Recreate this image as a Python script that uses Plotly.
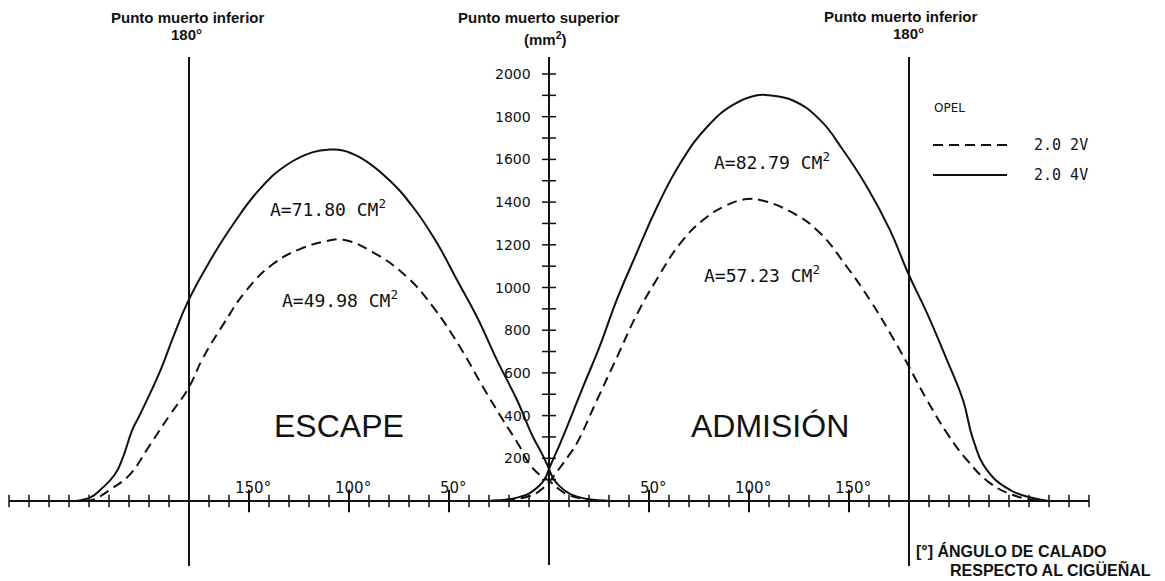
import plotly.graph_objects as go

# ---------------- data (crank angle in degrees, valve flow area in mm^2) ----------------
escape_4v_deg = [-240, -234, -229, -224, -217, -213, -208.5, -204.5, -194.5, -188, -180.5, -169.5,
                 -158, -144.5, -131, -118, -109.5, -103, -94.5, -81, -68, -56, -46, -36, -26, -16,
                 -8, -4, -1, 0, 2, 5, 10, 15, 20, 30]
escape_4v_val = [0, 4, 18, 55, 125, 205, 330, 405, 607, 765, 935, 1125,
                 1295, 1462, 1575, 1634, 1646, 1642, 1609, 1513, 1377, 1208, 1035, 862, 660, 473,
                 300, 230, 172, 150, 108, 72, 36, 18, 8, 0]

escape_2v_deg = [-232, -228, -218, -209.5, -199.5, -189.5, -180.5, -173, -163, -151, -138, -124.5,
                 -111, -103, -88, -71, -58, -44.5, -33, -23, -14.5, -11, -5, 0, 5, 10, 20, 30]
escape_2v_val = [0, 6, 62, 125, 263, 404, 525, 670, 825, 990, 1110, 1180,
                 1218, 1224, 1165, 1049, 909, 721, 534, 379, 253, 190, 125, 95, 55, 28, 6, 0]

admision_4v_deg = [-30, -20, -15, -10, -5, -2, 0, 3, 5.5, 9, 17, 25.5, 34, 44, 54, 65.5, 79, 92,
                   104, 110, 122, 135.5, 147, 159, 170.5, 179.5, 189, 199, 207, 212, 219,
                   230.5, 242, 250]
admision_4v_val = [0, 8, 18, 35, 70, 105, 150, 215, 268, 347, 534, 728, 945, 1165, 1377, 1580, 1752, 1855,
                   1900, 1900, 1876, 1785, 1644, 1471, 1269, 1068, 880, 660, 473, 290, 145,
                   52, 14, 0]

admision_2v_deg = [-30, -20, -10, -5, 0, 5, 10, 14, 24, 34, 44, 54, 65.5, 77, 89, 99, 105.5,
                   122, 135.5, 149, 160.5, 170.5, 179, 189, 199, 209, 220.5, 232, 242, 248]
admision_2v_val = [0, 6, 22, 45, 90, 150, 215, 272, 473, 674, 875, 1040, 1205, 1316, 1386, 1414, 1410,
                   1349, 1255, 1096, 941, 787, 646, 473, 318, 192, 84, 28, 5, 0]

x_minor_ticks = list(range(-270, 271, 10))
x_major_ticks = [-150, -100, -50, 50, 100, 150]
x_major_labels = ["150°", "100°", "50°", "50°", "100°", "150°"]
y_ticks = list(range(100, 2001, 100))
y_label_vals = list(range(200, 2001, 200))
y_label_text = [str(v) for v in y_label_vals]
dead_centres = [-180, 180]

# ---------------- geometry of the canvas ----------------
W, H = 1165, 581
X0, PXD = 549.0, 2.0        # pixel of 0 deg, pixels per degree
Y0, PYU = 501.0, 0.2135     # pixel of 0 mm2, pixels per mm2


def fx(px):
    return (px - X0) / PXD


def fy(py):
    return (Y0 - py) / PYU


BLACK = "#111111"
SANS = "DejaVu Sans"
ARIAL = "Liberation Sans"
MONO = "DejaVu Sans Mono"
DASH = "10px,6px"
SMOOTH = 1.3

fig = go.Figure()

# curves
for xs, ys, dash, name in [(escape_4v_deg, escape_4v_val, "solid", "2.0 4V"),
                           (escape_2v_deg, escape_2v_val, DASH, "2.0 2V"),
                           (admision_4v_deg, admision_4v_val, "solid", "2.0 4V"),
                           (admision_2v_deg, admision_2v_val, DASH, "2.0 2V")]:
    fig.add_trace(go.Scatter(x=xs, y=ys, mode="lines",
                             line=dict(color=BLACK, width=2, dash=dash, shape="spline", smoothing=SMOOTH),
                             name=name, showlegend=False, hoverinfo="skip"))

# axis lines
shapes = []
shapes.append(dict(type="line", x0=x_minor_ticks[0], x1=x_minor_ticks[-1], y0=0, y1=0,
                   line=dict(color=BLACK, width=2)))
shapes.append(dict(type="line", x0=0, x1=0, y0=fy(565), y1=fy(57), line=dict(color=BLACK, width=2)))
for d in dead_centres:
    shapes.append(dict(type="line", x0=d, x1=d, y0=fy(566), y1=fy(57), line=dict(color=BLACK, width=2)))
# legend sample lines
shapes.append(dict(type="line", x0=fx(933), x1=fx(1007), y0=fy(145), y1=fy(145),
                   line=dict(color=BLACK, width=2, dash=DASH)))
shapes.append(dict(type="line", x0=fx(933), x1=fx(1007), y0=fy(175), y1=fy(175),
                   line=dict(color=BLACK, width=2)))

# ticks
fig.add_trace(go.Scatter(x=x_minor_ticks, y=[0] * len(x_minor_ticks), mode="markers",
                         marker=dict(symbol="line-ns-open", size=9, color=BLACK,
                                     line=dict(color=BLACK, width=1.5)),
                         showlegend=False, hoverinfo="skip"))
fig.add_trace(go.Scatter(x=x_major_ticks, y=[0] * len(x_major_ticks), mode="markers",
                         marker=dict(symbol="line-ns-open", size=16, color=BLACK,
                                     line=dict(color=BLACK, width=2)),
                         showlegend=False, hoverinfo="skip"))
fig.add_trace(go.Scatter(x=[0] * len(y_ticks), y=y_ticks, mode="markers",
                         marker=dict(symbol="line-ew-open", size=10, color=BLACK,
                                     line=dict(color=BLACK, width=1.5)),
                         showlegend=False, hoverinfo="skip"))

ann = []


def text(x, y, s, size=14, family=SANS, xanchor="center", yanchor="middle", xshift=0, yshift=0):
    ann.append(dict(x=x, y=y, text=s, showarrow=False, xanchor=xanchor, yanchor=yanchor,
                    xshift=xshift, yshift=yshift, font=dict(family=family, size=size, color=BLACK)))


# tick labels
for v, s in zip(x_major_ticks, x_major_labels):
    text(v, fy(488), s, size=15, xshift=4)
for v, s in zip(y_label_vals, y_label_text):
    text(fx(533), v, s, size=14, xanchor="right")

# headers
text(fx(187), fy(17), "<b>Punto muerto inferior</b>", size=15, family=ARIAL)
text(fx(186), fy(34), "<b>180°</b>", size=15, family=ARIAL)
text(fx(539), fy(17), "<b>Punto muerto superior</b>", size=15, family=ARIAL)
text(fx(545), fy(38), "<b>(mm<sup>2</sup>)</b>", size=15, family=ARIAL)
text(fx(900), fy(16), "<b>Punto muerto inferior</b>", size=15, family=ARIAL)
text(fx(908), fy(33), "<b>180°</b>", size=15, family=ARIAL)

# legend
text(fx(932), fy(108), "OPEL", size=12, xanchor="left")
text(fx(1032), fy(145), "2.0 2V", size=15, family=MONO, xanchor="left")
text(fx(1032), fy(175), "2.0 4V", size=15, family=MONO, xanchor="left")

# area labels
text(fx(268), fy(208), "A=71.80 CM<sup>2</sup>", size=18, family=MONO, xanchor="left")
text(fx(280), fy(299), "A=49.98 CM<sup>2</sup>", size=18, family=MONO, xanchor="left")
text(fx(712), fy(161), "A=82.79 CM<sup>2</sup>", size=18, family=MONO, xanchor="left")
text(fx(702), fy(274), "A=57.23 CM<sup>2</sup>", size=18, family=MONO, xanchor="left")

# region labels
text(fx(339), fy(426), "ESCAPE", size=32, family=ARIAL)
text(fx(770), fy(426), "ADMISIÓN", size=32, family=ARIAL)

# footnote
text(fx(914), fy(551), "<b>[°] ÁNGULO DE CALADO</b>", size=16, family=ARIAL, xanchor="left")
text(fx(948), fy(569), "<b>RESPECTO AL CIGÜEÑAL</b>", size=16, family=ARIAL, xanchor="left")

fig.update_layout(
    width=W, height=H, margin=dict(l=0, r=0, t=0, b=0),
    paper_bgcolor="white", plot_bgcolor="white",
    xaxis=dict(range=[fx(0), fx(W)], visible=False, fixedrange=True),
    yaxis=dict(range=[fy(H), fy(0)], visible=False, fixedrange=True),
    shapes=shapes, annotations=ann, showlegend=False,
)

fig.write_html("out.html", config={"displayModeBar": False},
               post_script="document.body.style.margin='0';")
